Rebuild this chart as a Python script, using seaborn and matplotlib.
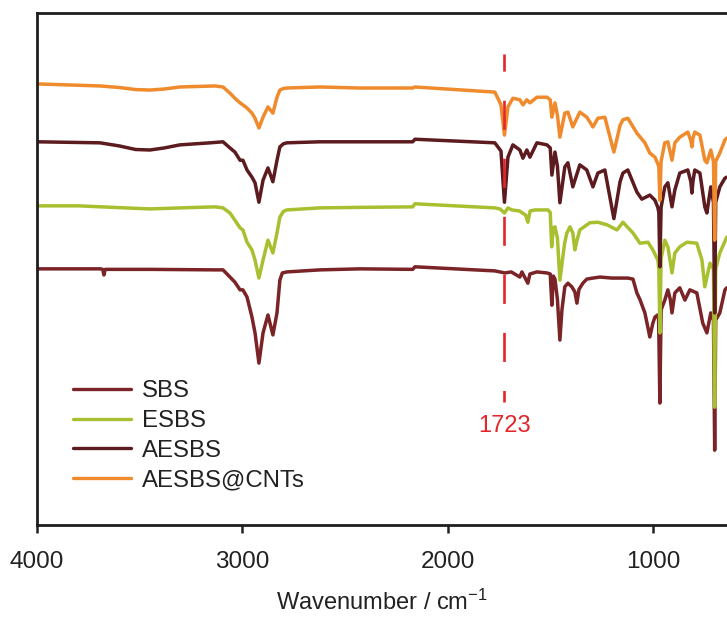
import matplotlib
matplotlib.use("Agg")
import matplotlib.pyplot as plt
import seaborn as sns
import pandas as pd

sns.set_style("white")
plt.rcParams['font.family'] = ['Liberation Sans', 'DejaVu Sans']
plt.rcParams['mathtext.default'] = 'regular'
plt.rcParams['lines.scale_dashes'] = False

samples = ["SBS", "ESBS", "AESBS", "AESBS@CNTs"]
colors = ["#7A2427", "#A8C030", "#5C1B1E", "#EF8B2C"]

sbs_wn = [4000, 3690, 3680, 3674, 3668, 3450, 3133, 3094, 3060, 3036, 3011, 2997, 2977, 2953, 2938, 2919,
          2899, 2875, 2851, 2831, 2817, 2805, 2783, 2622, 2427, 2170, 2159, 1770, 1745, 1721, 1690, 1648, 1638,
          1609, 1599, 1565, 1516, 1500, 1492, 1485, 1477, 1465, 1453, 1443, 1429, 1414, 1395, 1380, 1370,
          1360, 1341, 1322, 1292, 1258, 1200, 1122, 1097, 1078, 1063, 1039, 1024, 1015, 1000, 990, 976,
          972, 966, 960, 942, 927, 915, 907, 893, 869, 844, 820, 786, 757, 737, 718, 705, 699, 694,
          674, 649, 640]
sbs_t = [50.0, 50.0, 49.9, 48.8, 49.9, 49.9, 49.8, 49.8, 48.4, 47.4, 45.9, 45.9, 44.5, 40.6, 37.5, 31.6,
         37.5, 41.0, 37.1, 41.4, 47.8, 49.2, 49.4, 49.8, 50.0, 49.9, 50.4, 49.6, 49.4, 49.2, 49.4, 48.4, 49.4,
         47.2, 49.0, 49.4, 49.2, 49.0, 42.9, 48.6, 48.0, 44.0, 36.1, 42.0, 46.5, 47.2, 46.5, 45.5, 43.3,
         46.0, 47.2, 48.0, 48.2, 48.4, 48.2, 48.2, 48.0, 45.3, 44.0, 41.4, 38.5, 36.7, 39.4, 40.6, 41.0,
         40.0, 23.8, 42.0, 43.9, 45.9, 44.0, 41.4, 45.3, 46.3, 43.9, 45.9, 45.3, 39.4, 37.5, 41.4, 40.0, 14.6, 40.0,
         41.4, 45.9, 46.3]

esbs_wn = [4000, 3800, 3571, 3450, 3300, 3133, 3094, 3060, 3036, 3011, 2997, 2977, 2953, 2938, 2919, 2899,
           2875, 2851, 2831, 2817, 2800, 2783, 2622, 2427, 2170, 2159, 1770, 1745, 1723, 1706, 1687, 1650, 1620,
           1609, 1598, 1575, 1511, 1500, 1493, 1485, 1477, 1465, 1453, 1430, 1419, 1404, 1390, 1380, 1370,
           1356, 1307, 1268, 1224, 1175, 1146, 1097, 1063, 1024, 1000, 976, 971, 966, 960, 942, 927, 907,
           893, 869, 834, 786, 761, 747, 722, 705, 699, 694, 674, 640]
esbs_t = [62.3, 62.3, 61.9, 61.7, 61.9, 62.1, 61.9, 60.9, 59.5, 58.0, 57.6, 55.2, 53.7, 51.7, 48.2, 51.7,
          55.6, 53.1, 57.0, 60.1, 61.2, 61.5, 61.9, 62.0, 62.1, 62.7, 61.9, 61.7, 60.9, 61.9, 61.5, 61.3, 60.5,
          59.1, 61.3, 61.5, 61.5, 61.0, 54.3, 58.0, 58.2, 56.0, 47.8, 55.0, 57.0, 58.2, 57.0, 53.7, 55.5,
          57.6, 59.0, 59.1, 58.6, 57.6, 59.1, 57.0, 55.0, 55.2, 53.7, 51.7, 50.0, 37.5, 52.0, 55.6, 54.3, 49.2,
          53.1, 54.3, 55.2, 55.0, 51.7, 46.5, 51.1, 50.0, 23.0, 50.0, 53.1, 56.2]

aesbs_wn = [4000, 3693, 3600, 3520, 3450, 3380, 3304, 3157, 3094, 3060, 3036, 3011, 2997, 2977, 2953, 2938,
            2919, 2899, 2875, 2851, 2831, 2817, 2800, 2783, 2622, 2427, 2170, 2159, 1770, 1755, 1740, 1723,
            1706, 1682, 1648, 1633, 1614, 1599, 1565, 1516, 1500, 1492, 1477, 1465, 1453, 1429, 1414, 1390,
            1356, 1322, 1292, 1268, 1234, 1190, 1160, 1146, 1122, 1078, 1054, 1015, 990, 976, 971, 966, 960,
            942, 927, 907, 893, 869, 830, 815, 810, 805, 796, 771, 747, 737, 718, 705, 699, 694, 674, 649, 640]
aesbs_t = [74.8, 74.6, 74.0, 73.3, 73.2, 73.6, 74.2, 74.6, 74.8, 73.6, 72.8, 71.2, 71.2, 69.3, 67.9, 66.8,
           63.0, 67.3, 69.7, 67.0, 71.2, 73.8, 74.4, 74.6, 74.8, 74.8, 74.8, 75.3, 74.6, 73.8, 73.0, 63.0,
           71.8, 74.2, 73.2, 71.6, 73.2, 71.8, 74.6, 74.2, 73.6, 68.3, 72.8, 70.0, 62.9, 69.9, 70.7, 66.0,
           70.3, 69.3, 66.0, 68.7, 69.3, 59.8, 67.0, 68.7, 69.3, 65.0, 63.6, 64.4, 63.4, 62.0, 61.0, 50.4, 62.0,
           66.0, 66.8, 62.1, 65.4, 68.7, 69.3, 67.0, 64.8, 67.0, 69.3, 68.7, 62.1, 60.9, 66.0, 63.0, 41.4, 63.0,
           66.0, 67.7, 67.9]

cnt_wn = [4000, 3693, 3600, 3520, 3450, 3380, 3304, 3133, 3094, 3060, 3036, 3011, 2997, 2977, 2953, 2938,
          2919, 2899, 2875, 2851, 2831, 2817, 2800, 2783, 2622, 2427, 2170, 2159, 1770, 1755, 1740, 1723,
          1706, 1682, 1648, 1633, 1614, 1599, 1565, 1516, 1500, 1492, 1477, 1465, 1453, 1429, 1414, 1390,
          1356, 1322, 1292, 1268, 1234, 1190, 1160, 1146, 1122, 1078, 1039, 1015, 990, 976, 971, 966, 960,
          942, 927, 907, 893, 869, 830, 815, 810, 805, 796, 771, 747, 737, 718, 705, 699, 694, 674, 649, 640]
cnt_t = [86.1, 85.7, 85.4, 85.0, 84.9, 85.1, 85.5, 85.7, 85.5, 84.3, 83.3, 82.4, 82.0, 81.4, 80.4, 79.4,
         77.5, 79.6, 81.6, 80.4, 83.5, 84.9, 85.2, 85.3, 85.5, 85.3, 85.3, 85.5, 84.5, 83.3, 82.0, 76.1,
         81.6, 83.3, 83.0, 82.0, 83.0, 82.4, 83.5, 83.5, 83.0, 79.6, 82.4, 80.0, 75.7, 80.4, 80.6, 77.7,
         80.6, 79.6, 77.7, 79.4, 79.6, 72.8, 78.0, 79.1, 79.4, 76.5, 74.6, 72.6, 71.8, 70.5, 70.0, 63.4, 71.0,
         74.6, 74.8, 71.2, 74.6, 75.7, 76.7, 75.0, 73.8, 75.5, 76.7, 76.1, 71.2, 70.7, 73.2, 71.0, 55.6, 71.0,
         72.6, 75.2, 75.5]

marker_wn = 1723
marker_label = "1723"
xticks = [4000, 3000, 2000, 1000]

frames = []
for name, wn, t in [("SBS", sbs_wn, sbs_t), ("ESBS", esbs_wn, esbs_t),
                    ("AESBS", aesbs_wn, aesbs_t), ("AESBS@CNTs", cnt_wn, cnt_t)]:
    frames.append(pd.DataFrame({"wn": wn, "T": t, "sample": name}))
df = pd.concat(frames, ignore_index=True)

fig = plt.figure(figsize=(7.27, 6.18), dpi=100)
ax = fig.add_axes([37/727, 93/618, 690/727, 512.3/618])

sns.lineplot(data=df, x="wn", y="T", hue="sample", hue_order=samples,
             palette=dict(zip(samples, colors)), estimator=None, sort=False,
             linewidth=2.5, ax=ax)
for ln in ax.lines:
    ln.set_solid_joinstyle('round')
    ln.set_solid_capstyle('round')

ax.vlines(marker_wn, 24.0, 92.0, colors="#E3262B", linewidth=1.9,
          linestyles=[(12.6, (20.9, 20.9))], zorder=10)
ax.text(marker_wn, 19.3, marker_label, color="#E3262B", fontsize=17,
        ha="center", va="center")

ax.set_xlim(4000, 639)
ax.set_ylim(0, 100)
ax.set_xticks(xticks)
ax.set_yticks([])
ax.tick_params(axis='x', direction='out', length=6, width=1.8, pad=12.5,
               labelsize=17.5, colors="#222222", bottom=True)
ax.set_xlabel("Wavenumber / cm$^{-1}$", fontsize=17, color="#222222", labelpad=12.5)
ax.set_ylabel("")
for side in ["left", "bottom", "top"]:
    ax.spines[side].set_linewidth(2.0)
    ax.spines[side].set_color("#1e1e1e")
ax.spines["right"].set_visible(False)

handles, labels = ax.get_legend_handles_labels()
leg = ax.legend(handles, labels, loc="upper left", bbox_to_anchor=(0.0522, 0.283),
                frameon=False, fontsize=17.3, handlelength=2.42, handletextpad=0.46,
                labelspacing=0.33, borderpad=0, borderaxespad=0)
for t in leg.get_texts():
    t.set_color("#222222")
for h in leg.get_lines():
    h.set_linewidth(2.4)

fig.savefig("out.png", dpi=100)
